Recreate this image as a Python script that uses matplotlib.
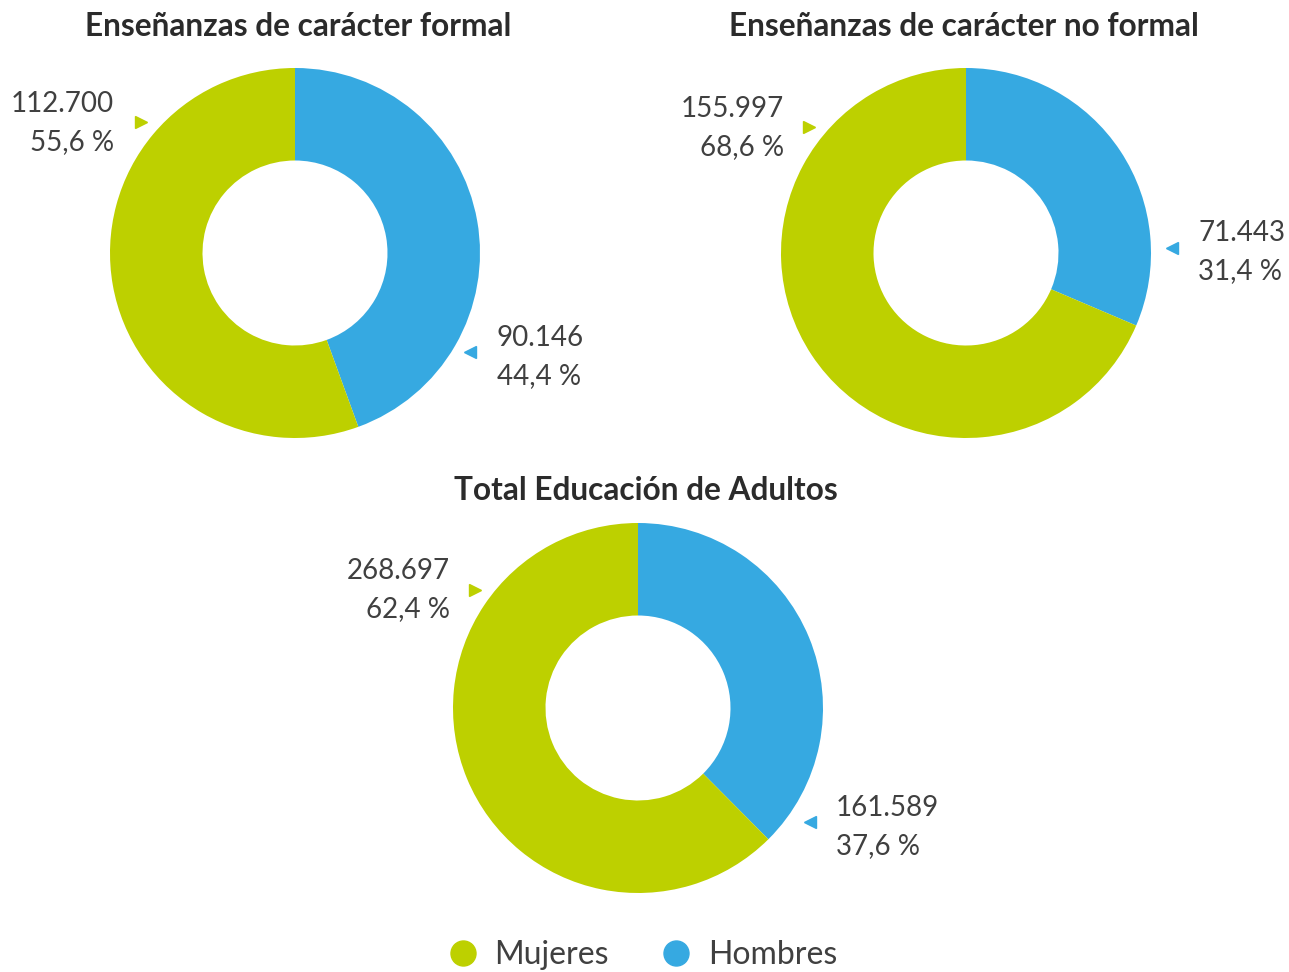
import matplotlib
matplotlib.use("Agg")
import matplotlib.pyplot as plt
from matplotlib.lines import Line2D

# ---- data ----
titles = ["Enseñanzas de carácter formal",
          "Enseñanzas de carácter no formal",
          "Total Educación de Adultos"]
mujeres = [112700, 155997, 268697]
hombres = [90146, 71443, 161589]
mujeres_lbl = ["112.700\n55,6 %", "155.997\n68,6 %", "268.697\n62,4 %"]
hombres_lbl = ["90.146\n44,4 %", "71.443\n31,4 %", "161.589\n37,6 %"]
series = ["Mujeres", "Hombres"]

GREEN = "#BDD000"
BLUE = "#36A9E1"
TXT = "#404040"

W, H = 1289, 972
plt.rcParams['font.family'] = ['Lato', 'DejaVu Sans']

fig = plt.figure(figsize=(W/100, H/100), dpi=100)

def fx(x):
    return x/W
def fy(y):
    return 1 - y/H

# centre (px), radius (px)
centres = [(295, 253), (966, 253), (638, 708)]
R = 185
title_x = [298, 964, 646]
title_y = [27, 27, 491]
# label positions (px): mujeres right-aligned, hombres left-aligned
m_txt = [(114, 123), (784, 128), (450, 590)]
h_txt = [(497, 357), (1198, 252), (836, 827)]
m_mark = [(141, 122), (809, 127), (475, 590)]
h_mark = [(470, 352), (1172, 248), (810, 822)]

for i in range(3):
    cx, cy = centres[i]
    ax = fig.add_axes([fx(cx-R), fy(cy+R), 2*R/W, 2*R/H])
    ax.pie([hombres[i], mujeres[i]], colors=[BLUE, GREEN], startangle=90,
           counterclock=False, radius=1.0,
           wedgeprops=dict(width=0.5, edgecolor='none'))
    ax.set_xlim(-1, 1)
    ax.set_ylim(-1, 1)
    ax.set_aspect('equal')
    ax.axis('off')

    fig.text(fx(title_x[i]), fy(title_y[i]), titles[i], ha='center', va='center',
             fontsize=22.8, fontweight='bold', color='#2b2b2b')
    fig.text(fx(m_txt[i][0]), fy(m_txt[i][1]), mujeres_lbl[i], ha='right',
             va='center', fontsize=20, color=TXT, linespacing=1.6)
    fig.text(fx(h_txt[i][0]), fy(h_txt[i][1]), hombres_lbl[i], ha='left',
             va='center', fontsize=20, color=TXT, linespacing=1.6)
    fig.lines.append(Line2D([fx(m_mark[i][0])], [fy(m_mark[i][1])],
                            marker='>', color=GREEN, markersize=8, ls='none',
                            transform=fig.transFigure))
    fig.lines.append(Line2D([fx(h_mark[i][0])], [fy(h_mark[i][1])],
                            marker='<', color=BLUE, markersize=8, ls='none',
                            transform=fig.transFigure))

handles = [Line2D([], [], marker='o', ls='none', color=GREEN, markersize=18),
           Line2D([], [], marker='o', ls='none', color=BLUE, markersize=18)]
leg = fig.legend(handles, series, loc='center', bbox_to_anchor=(fx(642), fy(955)),
                 ncol=2, frameon=False, fontsize=23, handletextpad=0.5,
                 columnspacing=1.6, handlelength=1.0)
for t in leg.get_texts():
    t.set_color(TXT)

fig.savefig("out.png", dpi=100)
